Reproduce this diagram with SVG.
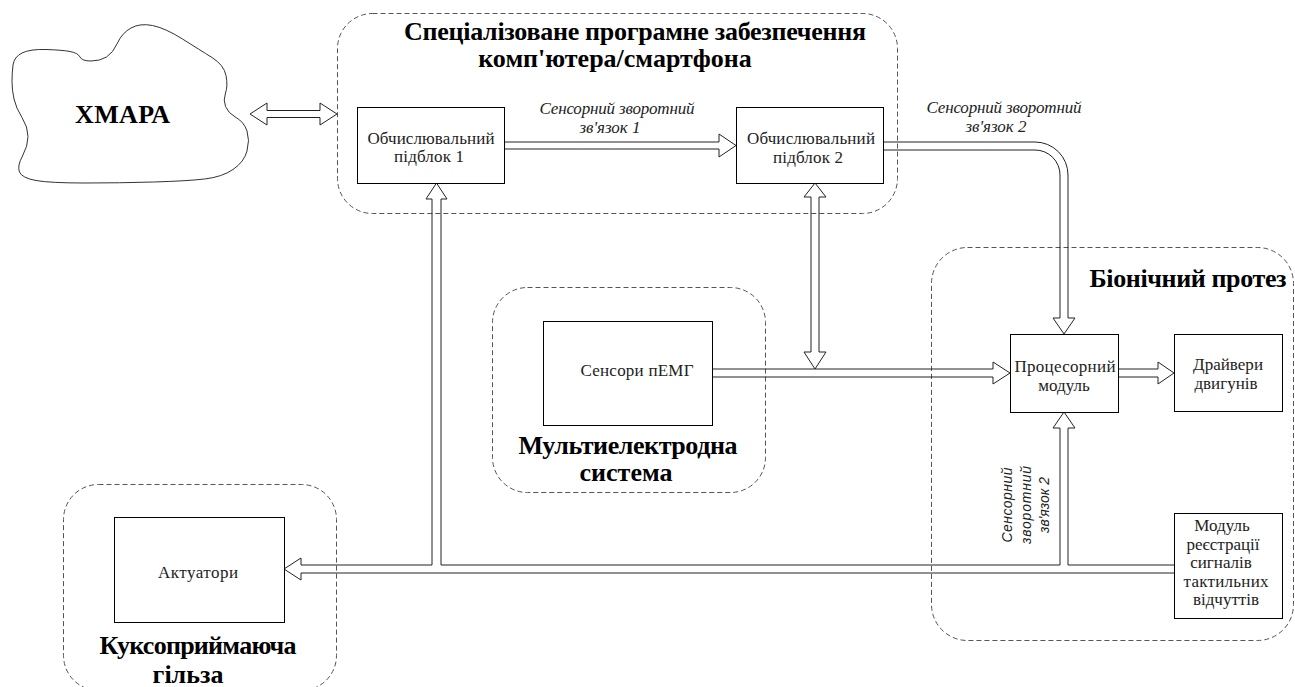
<svg xmlns="http://www.w3.org/2000/svg" width="1295" height="687" viewBox="0 0 1295 687">
<style>
.box{fill:#fff;stroke:#000;stroke-width:1}
.grp{fill:none;stroke:#555;stroke-width:1;stroke-dasharray:5 3}
.conn{fill:none;stroke:#222;stroke-width:1}
.t{font-family:"Liberation Serif",serif;font-size:17px;fill:#222;text-anchor:middle}
.title{font-family:"Liberation Serif",serif;font-weight:bold;font-size:26px;fill:#000;text-anchor:middle}
.lbl{font-family:"Liberation Serif",serif;font-style:italic;font-size:17px;fill:#222;text-anchor:middle}
.vl{font-family:"Liberation Sans",sans-serif;font-style:italic;font-size:14px;fill:#222;text-anchor:middle}
</style>
<rect width="1295" height="687" fill="#fff"/>

<g id="cloud">
<path d="M12,81.5 Q12,73 13,65 Q14,57 22,53 Q30,49 46,49.5 Q62,50 70,51.5 Q78,53 80,57 Q82,61 91,61 Q100,61 106.5,57 Q113,53 117.5,43 Q122,33 131,28 Q140,23 152.5,25.5 Q165,28 182.5,39 Q200,50 212,57.5 Q224,65 226,75.5 Q228,86 225.5,93 Q223,100 225.5,106.5 Q228,113 236,117.5 Q244,122 247,131 Q250,140 247,151 Q244,162 233,169.5 Q222,177 204.5,179 Q187,181 153.5,182 Q120,183 85,183 Q50,183 36,180.5 Q22,178 19.5,172 Q17,166 22.5,156 Q28,146 28,136.5 Q28,127 22,117.5 Q16,108 14,99 Q12,90 12,81.5 Z" fill="#fff" stroke="#333" stroke-width="1"/>
<text class="title" x="122.5" y="123" textLength="95">ХМАРА</text>
</g>

<g id="software">
<rect class="grp" x="337.5" y="13.5" width="560" height="200" rx="35"/>
<text class="title" x="635" y="40" textLength="462">Спеціалізоване програмне забезпечення</text>
<text class="title" x="615" y="67">комп'ютера/смартфона</text>
</g>

<g id="bionic">
<rect class="grp" x="931.5" y="247.5" width="362" height="393" rx="36"/>
<text class="title" x="1188" y="287" textLength="197">Біонічний протез</text>
</g>

<g id="multielectrode">
<rect class="grp" x="492.5" y="287.5" width="273" height="205" rx="35"/>
<text class="title" x="628" y="454" textLength="219">Мультиелектродна</text>
<text class="title" x="626" y="481">система</text>
</g>

<g id="socket">
<rect class="grp" x="63.5" y="484.5" width="273" height="206" rx="35"/>
<text class="title" x="198" y="654" textLength="197">Куксоприймаюча</text>
<text class="title" x="188" y="683">гільза</text>
</g>

<g id="connectors">
<path class="conn" d="M250,114 L267,103 L267,110.5 L320,110.5 L320,103 L337,114 L320,125 L320,117.5 L267,117.5 L267,125 Z"/>
<path class="conn" d="M504,142 L719,142 L719,134 L736,145.5 L719,157 L719,149 L504,149"/>
<path class="conn" d="M883,142 L1035,142 A33,33 0 0 1 1068,175 L1068,318 L1075,318 L1064,334 L1053,318 L1060,318 L1060,175 A25,25 0 0 0 1035,150 L883,150"/>
<path class="conn" d="M815,183 L826,197 L819,197 L819,352 L826,352 L815,369 L804,352 L811,352 L811,197 L804,197 Z"/>
<path class="conn" d="M712,369 L993,369 L993,362 L1010,373 L993,384 L993,377 L712,377"/>
<path class="conn" d="M1118,369 L1158,369 L1158,362 L1174,373 L1158,384 L1158,377 L1118,377"/>
<path class="conn" d="M1174,565 L1068,565 L1068,428 L1075,428 L1064,412 L1053,428 L1060,428 L1060,565 L441,565 L441,199 L447,199 L436.5,183 L426,199 L432,199 L432,565 L301,565 L301,558 L284,569 L301,580 L301,573 L1174,573"/>
<text class="lbl" x="617" y="114" textLength="155">Сенсорний зворотний</text>
<text class="lbl" x="610" y="133">зв'язок 1</text>
<text class="lbl" x="1004" y="113" textLength="155">Сенсорний зворотний</text>
<text class="lbl" x="996" y="132">зв'язок 2</text>
<text class="vl" transform="translate(1012,505) rotate(-90)" textLength="75">Сенсорний</text>
<text class="vl" transform="translate(1030.5,505) rotate(-90)" textLength="78">зворотний</text>
<text class="vl" transform="translate(1049,505) rotate(-90)" textLength="56">зв'язок 2</text>
</g>

<g id="block1">
<rect class="box" x="357.5" y="107.5" width="147" height="76"/>
<text class="t" x="431" y="144" textLength="127">Обчислювальний</text>
<text class="t" x="429" y="162" textLength="70">підблок 1</text>
</g>

<g id="block2">
<rect class="box" x="736.5" y="107.5" width="147" height="76"/>
<text class="t" x="811" y="144" textLength="128">Обчислювальний</text>
<text class="t" x="808" y="163" textLength="70">підблок 2</text>
</g>

<g id="processor">
<rect class="box" x="1010.5" y="334.5" width="108" height="78"/>
<text class="t" x="1065" y="372" textLength="101">Процесорний</text>
<text class="t" x="1064" y="391">модуль</text>
</g>

<g id="drivers">
<rect class="box" x="1174.5" y="334.5" width="108" height="77"/>
<text class="t" x="1228" y="370" textLength="70">Драйвери</text>
<text class="t" x="1226" y="389">двигунів</text>
</g>

<g id="tactile">
<rect class="box" x="1174.5" y="513.5" width="108" height="105"/>
<text class="t" x="1222" y="531">Модуль</text>
<text class="t" x="1223" y="549.5" textLength="73">реєстрації</text>
<text class="t" x="1221" y="568">сигналів</text>
<text class="t" x="1226" y="586.5" textLength="85">тактильних</text>
<text class="t" x="1226" y="605">відчуттів</text>
</g>

<g id="emg">
<rect class="box" x="543.5" y="321.5" width="169" height="104"/>
<text class="t" x="637" y="376" textLength="113">Сенсори пЕМГ</text>
</g>

<g id="actuators">
<rect class="box" x="114.5" y="517.5" width="170" height="105"/>
<text class="t" x="198" y="578" textLength="80">Актуатори</text>
</g>
</svg>
